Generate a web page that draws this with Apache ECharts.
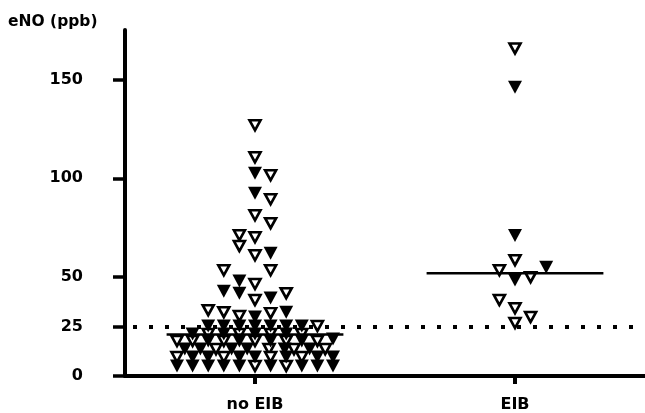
<!DOCTYPE html>
<html>
<head>
<meta charset="utf-8">
<script src="https://cdn.jsdelivr.net/npm/echarts@6/dist/echarts.min.js"></script>
<style>html,body{margin:0;padding:0;background:#fff}#c{width:645px;height:413px}</style>
</head>
<body>
<div id="c"></div>
<script>
// ---- data ----
const categories = ['no EIB', 'EIB'];
const yTicks = [0, 25, 50, 100, 150];
const threshold = 25;
const medians = [21, 52];
// each point: [beeswarm column (slot) around the group centre, eNO (ppb)]
const noEibOpen = [
  [0,126.8],[0,110.6],[1,101.5],[1,89.4],[0,81.3],[1,77.3],[-1,71.2],[0,70.2],[-1,65.7],[0,61.1],
  [-2,53.5],[1,53.5],[0,46.5],[0,38.4],[2,41.9],[-3,33.3],[-2,32.3],[-1,30.3],[1,31.8],
  [4,25.3],
  [-3,21.2],[-1,21.2],[1,21.2],[3,21.2],
  [-5,17.7],[-4,17.7],[-2,17.7],[0,17.7],[2,17.7],[4,17.7],
  [-2.5,13.6],[0.9,13.6],[2.5,13.6],[4.5,13.6],
  [-5,9.6],[-2,9.6],[1,9.6],[3,9.6],
  [0,5.1],[2,5.1]
];
const noEibFilled = [
  [0,102.5],[0,92.4],[1,62.1],[-1,48.0],[-2,42.9],[-1,41.9],[1,39.4],[0,29.8],[2,32.3],
  [-3,25.3],[-2,25.3],[-1,25.3],[0,25.3],[1,25.3],[2,25.3],[3,25.3],
  [-4,21.2],[-2,21.2],[0,21.2],[2,21.2],[5,18.7],
  [-3,17.7],[-1,17.7],[1,17.7],[3,17.7],
  [-4.5,13.6],[-3.5,13.6],[-1.5,13.6],[-0.5,13.6],[1.9,13.6],[3.5,13.6],
  [-4,9.6],[-3,9.6],[-1,9.6],[0,9.6],[2,9.6],[4,9.6],[5,9.6],
  [-5,5.1],[-4,5.1],[-3,5.1],[-2,5.1],[-1,5.1],[1,5.1],[3,5.1],[4,5.1],[5,5.1]
];
const eibOpen = [[0,165.7],[0,58.6],[-1,53.5],[1,50],[-1,38.4],[0,34.3],[1,29.8],[0,26.8]];
const eibFilled = [[0,146],[0,71],[0,48.5],[2,55]];

// ---- layout / style constants ----
const SLOT = 0.06;        // width of one beeswarm column in category units
const MEDIAN_HALF = 0.34; // half length of median bars
const FONT = 'DejaVu Sans';

function place(points, groupIndex) {
  return points.map(p => [groupIndex + 1 + p[0] * SLOT, p[1]]);
}
const openStyle = {
  type: 'scatter', symbol: 'triangle', symbolRotate: 180, symbolSize: [11, 10],
  itemStyle: { color: '#fff', borderColor: '#000', borderWidth: 2.6, opacity: 1 }, z: 3
};
const filledStyle = {
  type: 'scatter', symbol: 'triangle', symbolRotate: 180, symbolSize: [14, 13],
  itemStyle: { color: '#000', borderWidth: 0, opacity: 1 }, z: 3
};

const chart = echarts.init(document.getElementById('c'), null, { renderer: 'canvas' });
chart.setOption({
  animation: false,
  backgroundColor: '#fff',
  title: {
    text: 'eNO (ppb)', left: 3, top: 9,
    textStyle: { fontFamily: FONT, fontWeight: 'bold', fontSize: 15.5, color: '#000' }
  },
  grid: { left: 125, right: 0, top: 30, bottom: 37 },
  xAxis: {
    type: 'value', min: 0.5, max: 2.5,
    splitLine: { show: false },
    axisLine: { show: true, onZero: false, lineStyle: { color: '#000', width: 4 } },
    axisTick: { show: true, customValues: [1, 2], length: 8, lineStyle: { color: '#000', width: 4 } },
    axisLabel: {
      customValues: [1, 2], margin: 21,
      formatter: v => categories[Math.round(v) - 1] || '',
      fontFamily: FONT, fontWeight: 'bold', fontSize: 16, color: '#000'
    }
  },
  yAxis: {
    type: 'value', min: 0, max: 175,
    splitLine: { show: false },
    axisLine: { show: true, lineStyle: { color: '#000', width: 4 } },
    axisTick: { show: true, customValues: yTicks, length: 12, lineStyle: { color: '#000', width: 3.5 } },
    axisLabel: {
      customValues: yTicks, margin: 42,
      fontFamily: FONT, fontWeight: 'bold', fontSize: 16, color: '#000'
    }
  },
  series: [
    Object.assign({ data: place(noEibOpen, 0) }, openStyle),
    Object.assign({ data: place(noEibFilled, 0) }, filledStyle),
    Object.assign({ data: place(eibOpen, 1) }, openStyle),
    Object.assign({ data: place(eibFilled, 1) }, filledStyle),
    ...medians.map((m, i) => ({
      type: 'line', symbol: 'none', z: 4,
      data: [[i + 1 - MEDIAN_HALF, m], [i + 1 + MEDIAN_HALF, m]],
      lineStyle: { color: '#000', width: 2.5 }
    })),
    {
      type: 'line', data: [], z: 5,
      markLine: {
        silent: true, symbol: 'none', label: { show: false },
        lineStyle: { color: '#000', width: 4, type: [4, 12], dashOffset: -8, cap: 'butt' },
        data: [{ yAxis: threshold }]
      }
    }
  ]
});
</script>
</body>
</html>
